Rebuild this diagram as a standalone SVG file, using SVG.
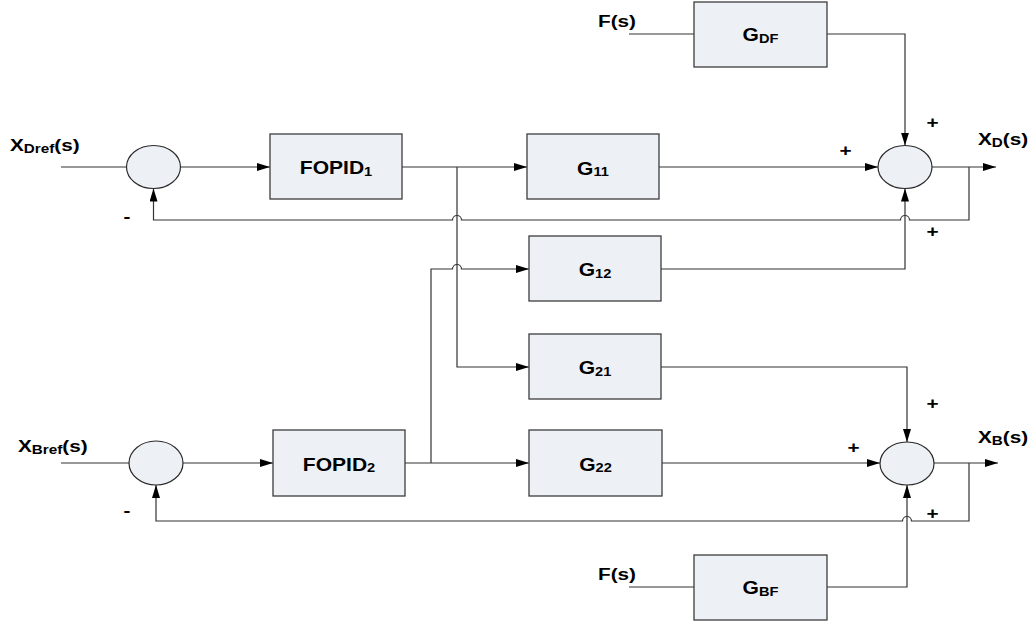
<svg xmlns="http://www.w3.org/2000/svg" width="1034" height="628" viewBox="0 0 1034 628">
<style>
.box{fill:#edf0f5;stroke:#3c3c3c;stroke-width:1.3}
.sum{fill:#edf0f5;stroke:#2a2a2a;stroke-width:1.2}
.ln{fill:none;stroke:#333;stroke-width:1.2}
.arr{marker-end:url(#ah)}
text{font-family:"Liberation Sans",Arial,sans-serif;font-weight:bold;font-size:17px;fill:#000}
.bt{font-size:18px}
.c{text-anchor:middle}
.sub{font-size:12.5px}
</style>
<defs>
<marker id="ah" viewBox="0 0 13 8" refX="13" refY="4" markerWidth="13" markerHeight="8" markerUnits="userSpaceOnUse" orient="auto">
<path d="M0,0 L13,4 L0,8 z" fill="#000"/>
</marker>
</defs>
<g id="connectors">
<path class="ln" d="M61,167 H126.5"/>
<path class="ln arr" d="M180.5,167 H270"/>
<path class="ln arr" d="M402,167 H527"/>
<path class="ln arr" d="M457,167 V367 H529"/>
<path class="ln arr" d="M659,167 H878"/>
<path class="ln" d="M629,34 H694"/>
<path class="ln arr" d="M827,34 H905 V145.5"/>
<path class="ln arr" d="M932,167 H996"/>
<path class="ln arr" d="M969,167 V220 H909.5 A4.5,4.5 0 0 0 900.5,220 H461.5 A4.5,4.5 0 0 0 452.5,220 H153.5 V188.5"/>
<path class="ln arr" d="M431,463 V269 H452.5 A4.5,4.5 0 0 1 461.5,269 H529"/>
<path class="ln arr" d="M661,269 H905 V188.5"/>
<path class="ln arr" d="M661,367 H907 V442"/>
<path class="ln" d="M61,463 H129"/>
<path class="ln arr" d="M183,463 H273"/>
<path class="ln arr" d="M405,463 H529"/>
<path class="ln arr" d="M662,463 H880"/>
<path class="ln arr" d="M934,463 H998"/>
<path class="ln arr" d="M969,463 V521 H911.5 A4.5,4.5 0 0 0 902.5,521 H156 V485"/>
<path class="ln" d="M629,587 H694"/>
<path class="ln arr" d="M827,587 H907 V485"/>
</g>
<g id="sum1"><ellipse class="sum" cx="153.5" cy="167" rx="27" ry="21.5"/></g>
<g id="sum2"><ellipse class="sum" cx="156" cy="463" rx="27" ry="22"/></g>
<g id="sum3"><ellipse class="sum" cx="905" cy="167" rx="27" ry="21.5"/></g>
<g id="sum4"><ellipse class="sum" cx="907" cy="463.5" rx="27" ry="21.5"/></g>
<g id="fopid1"><rect class="box" x="270" y="134" width="132" height="65"/>
<text class="c bt" transform="translate(336,174) scale(1.17,1)">FOPID<tspan class="sub" dy="1.5">1</tspan></text></g>
<g id="fopid2"><rect class="box" x="273" y="430" width="132" height="66"/>
<text class="c bt" transform="translate(339,470.5) scale(1.17,1)">FOPID<tspan class="sub" dy="1.5">2</tspan></text></g>
<g id="g11"><rect class="box" x="527" y="134" width="132" height="65"/>
<text class="c bt" transform="translate(593,174.5) scale(1.17,1)">G<tspan class="sub" dy="1.5">11</tspan></text></g>
<g id="g12"><rect class="box" x="529" y="236" width="132" height="65"/>
<text class="c bt" transform="translate(595,276) scale(1.17,1)">G<tspan class="sub" dy="1.5">12</tspan></text></g>
<g id="g21"><rect class="box" x="529" y="334" width="132" height="65"/>
<text class="c bt" transform="translate(595,374) scale(1.17,1)">G<tspan class="sub" dy="1.5">21</tspan></text></g>
<g id="g22"><rect class="box" x="529" y="430" width="133" height="66"/>
<text class="c bt" transform="translate(595.5,470.5) scale(1.17,1)">G<tspan class="sub" dy="1.5">22</tspan></text></g>
<g id="gdf"><rect class="box" x="694" y="2" width="133" height="65"/>
<text class="c bt" transform="translate(760.5,41) scale(1.17,1)">G<tspan class="sub" dy="1.5">DF</tspan></text></g>
<g id="gbf"><rect class="box" x="694" y="555" width="133" height="65"/>
<text class="c bt" transform="translate(760.5,594) scale(1.17,1)">G<tspan class="sub" dy="1.5">BF</tspan></text></g>
<g id="labels">
<text transform="translate(10,151) scale(1.22,1)">X<tspan class="sub" dy="2">Dref</tspan><tspan dy="-2">(s)</tspan></text>
<text transform="translate(18,452) scale(1.22,1)">X<tspan class="sub" dy="2">Bref</tspan><tspan dy="-2">(s)</tspan></text>
<text transform="translate(978,145) scale(1.22,1)">X<tspan class="sub" dy="2">D</tspan><tspan dy="-2">(s)</tspan></text>
<text transform="translate(978,443) scale(1.22,1)">X<tspan class="sub" dy="2">B</tspan><tspan dy="-2">(s)</tspan></text>
<text transform="translate(598,27) scale(1.22,1)">F(s)</text>
<text transform="translate(598,580) scale(1.22,1)">F(s)</text>
<text class="c" transform="translate(932.5,128) scale(1.22,1)">+</text>
<text class="c" transform="translate(845.5,156) scale(1.22,1)">+</text>
<text class="c" transform="translate(932.5,237) scale(1.22,1)">+</text>
<text class="c" transform="translate(932.5,408.5) scale(1.22,1)">+</text>
<text class="c" transform="translate(853.5,453) scale(1.22,1)">+</text>
<text class="c" transform="translate(932.5,518.5) scale(1.22,1)">+</text>
<text class="c" transform="translate(127,221.5) scale(1.22,1)">-</text>
<text class="c" transform="translate(127,516) scale(1.22,1)">-</text>
</g>
</svg>
